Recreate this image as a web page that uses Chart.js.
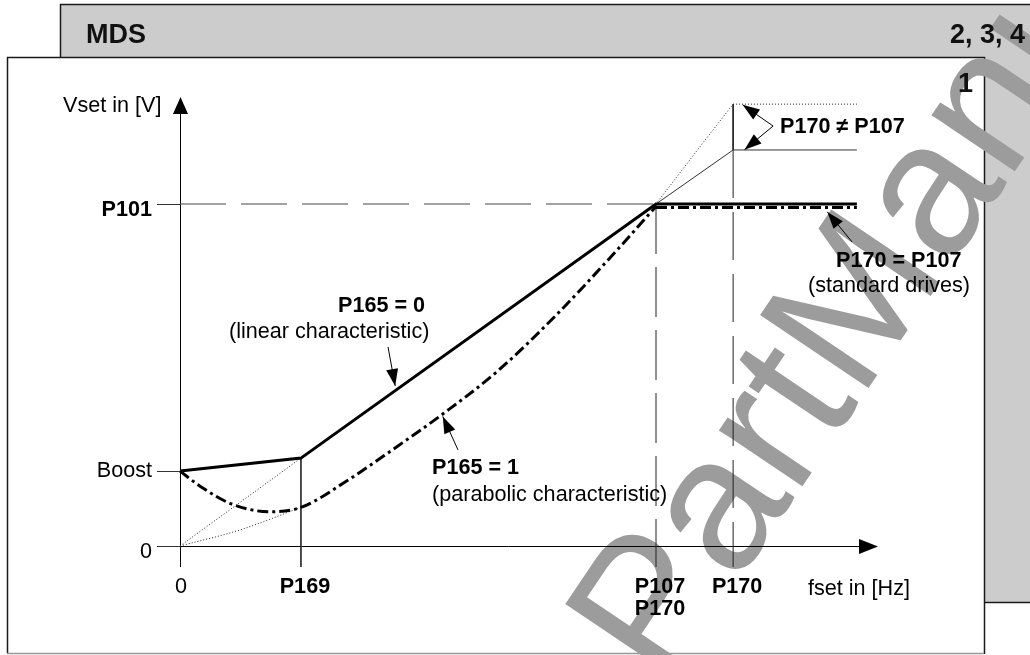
<!DOCTYPE html>
<html><head><meta charset="utf-8">
<script src="https://cdn.jsdelivr.net/npm/chart.js@4.4.0/dist/chart.umd.min.js"></script>
<style>html,body{margin:0;padding:0;background:#fff;}canvas{display:block;}</style>
</head><body>
<canvas id="c" width="1030" height="655"></canvas>
<script>
// ---------- data (f in Hz-like units, V in % of P101) ----------
const xTickValues = [0, 12.7, 50, 58.1];
const xTickLabels = [['0'], ['P169'], ['P107', 'P170'], ['P170']];
const yTickValues = [0, 21.9, 100];
const yTickLabels = ['0', 'Boost', 'P101'];

const fLinear = [0, 12.7, 50, 71.1];
const vLinear = [21.9, 25.7, 100, 100];

const fParabolic = [0, 2.1, 5.4, 9.45, 12.7, 17.5, 22.4, 27.7, 33.3, 39.4, 45.9, 50];
const vParabolic = [21.9, 17.5, 12.3, 10.0, 11.3, 19.0, 28.3, 38.8, 51.0, 67.2, 86.5, 99.3];
const fParabolicFlat = [50, 71.1];
const vParabolicFlat = [99.0, 99.0];

const fLinearNoBoost = [0, 12.7];
const vLinearNoBoost = [0, 25.7];
const fParabolicNoBoost = [0, 6.3, 12.7];
const vParabolicNoBoost = [0, 4.7, 11.3];

const fAboveSquare = [50, 54.6, 58.1, 71.1];
const vAboveSquare = [100, 116.7, 129.2, 129.2];
const fAboveLinear = [50, 58.1, 71.1];
const vAboveLinear = [100, 115.8, 115.8];

const fAxisMin = -2.42, fAxisMax = 73.32;
const vAxisMin = -6.14, vAxisMax = 131.29;

// ---------- helpers ----------
const pts = (fs, vs) => fs.map((f, i) => ({ x: f, y: vs[i] }));
const ds = (data, style) => Object.assign({
  data, showLine: true, pointRadius: 0, borderColor: '#000', borderWidth: 1,
  fill: false, tension: 0, borderCapStyle: 'butt', borderJoinStyle: 'miter'
}, style);
const DOT = [1, 2];
const DASHDOT = [11, 4, 3, 4];

const datasets = [
  ds(pts(fLinear, vLinear), { borderWidth: 3 }),
  ds(pts(fParabolic, vParabolic), { borderWidth: 3, borderDash: DASHDOT, cubicInterpolationMode: 'monotone' }),
  ds(pts(fParabolicFlat, vParabolicFlat), { borderWidth: 3, borderDash: DASHDOT }),
  ds(pts(fLinearNoBoost, vLinearNoBoost), { borderDash: DOT, borderColor: '#222' }),
  ds(pts(fParabolicNoBoost, vParabolicNoBoost), { borderDash: DOT, borderColor: '#222', cubicInterpolationMode: 'monotone' }),
  ds(pts(fAboveSquare, vAboveSquare), { borderDash: DOT, borderColor: '#222' }),
  ds(pts(fAboveLinear, vAboveLinear), { borderColor: '#333' }),
  // reference lines derived from the tick values
  ds(pts([0, xTickValues[2]], [yTickValues[2], yTickValues[2]]), { borderColor: '#444', borderDash: [46, 15] }),
  ds(pts([xTickValues[1], xTickValues[1]], [vLinear[1], vAxisMin]), { borderColor: '#333' }),
  ds(pts([xTickValues[2], xTickValues[2]], [yTickValues[2], vAxisMin]), { borderColor: '#222', borderDash: [50, 13] }),
  ds(pts([xTickValues[3], xTickValues[3]], [vAboveSquare[2], vAboveLinear[1]]), { borderColor: '#222' }),
  ds(pts([xTickValues[3], xTickValues[3]], [vAboveLinear[1], vAxisMin]), { borderColor: '#222', borderDash: [48, 14] })
];

const FONT = '"Liberation Sans", Arial, Helvetica, sans-serif';

function arrowHead(ctx, x1, y1, x2, y2, len, hw) {
  const a = Math.atan2(y2 - y1, x2 - x1);
  ctx.beginPath();
  ctx.moveTo(x2, y2);
  ctx.lineTo(x2 - len * Math.cos(a) + hw * Math.sin(a), y2 - len * Math.sin(a) - hw * Math.cos(a));
  ctx.lineTo(x2 - len * Math.cos(a) - hw * Math.sin(a), y2 - len * Math.sin(a) + hw * Math.cos(a));
  ctx.closePath();
  ctx.fill();
}

const framePlugin = {
  id: 'frame',
  beforeDraw(chart) {
    const ctx = chart.ctx;
    ctx.save();
    ctx.fillStyle = '#fff';
    ctx.fillRect(0, 0, 1030, 655);
    // grey header panel
    ctx.fillStyle = '#cccccc';
    ctx.fillRect(60, 4, 1000, 598);
    ctx.strokeStyle = '#1a1a1a';
    ctx.lineWidth = 1.5;
    ctx.strokeRect(60.5, 4.5, 1000, 598);
    // white panel
    ctx.fillStyle = '#fff';
    ctx.fillRect(7, 57, 978, 597);
    ctx.beginPath();
    ctx.moveTo(7.5, 653.5); ctx.lineTo(7.5, 57.5); ctx.lineTo(984.5, 57.5); ctx.lineTo(984.5, 654);
    ctx.stroke();
    ctx.strokeStyle = '#999';
    ctx.beginPath(); ctx.moveTo(7, 653.5); ctx.lineTo(984, 653.5); ctx.stroke();
    // watermark
    ctx.save();
    ctx.translate(665, 690);
    ctx.rotate(-56 * Math.PI / 180);
    ctx.font = '190px ' + FONT;
    ctx.fillStyle = '#9c9c9c';
    ctx.textBaseline = 'alphabetic';
    ctx.fillText('PartManual', 0, 0);
    ctx.restore();
    // header texts
    ctx.fillStyle = '#111';
    ctx.font = 'bold 27px ' + FONT;
    ctx.textAlign = 'left';
    ctx.fillText('MDS', 86, 43);
    ctx.fillText('2, 3, 4', 950, 43);
    ctx.fillText('1', 958, 92);
    ctx.restore();
  },
  beforeDatasetsDraw(chart) {
    const ctx = chart.ctx, X = v => chart.scales.x.getPixelForValue(v), Y = v => chart.scales.y.getPixelForValue(v);
    ctx.save();
    ctx.strokeStyle = '#000';
    ctx.fillStyle = '#000';
    ctx.lineWidth = 1;
    const x0 = Math.round(X(0)) + 0.5, y0 = Math.round(Y(0)) + 0.5;
    // x axis
    const xTip = X(fAxisMax);
    ctx.beginPath(); ctx.moveTo(X(fAxisMin), y0); ctx.lineTo(xTip - 18, y0); ctx.stroke();
    arrowHead(ctx, X(fAxisMin), y0, xTip, y0, 19, 7.5);
    // y axis
    const yTip = Y(vAxisMax);
    ctx.beginPath(); ctx.moveTo(x0, Y(vAxisMin)); ctx.lineTo(x0, yTip + 16); ctx.stroke();
    arrowHead(ctx, x0, Y(vAxisMin), x0, yTip, 17, 7.5);
    // y ticks
    ctx.strokeStyle = '#333';
    yTickValues.forEach(v => {
      const y = Math.round(Y(v)) + 0.5;
      ctx.beginPath(); ctx.moveTo(X(fAxisMin), y); ctx.lineTo(x0, y); ctx.stroke();
    });
    ctx.restore();
  },
  afterDatasetsDraw(chart) {
    const ctx = chart.ctx, X = v => chart.scales.x.getPixelForValue(v), Y = v => chart.scales.y.getPixelForValue(v);
    ctx.save();
    ctx.fillStyle = '#000';
    ctx.textBaseline = 'alphabetic';
    // y tick labels
    const yOff = [12, 6, 12];
    yTickLabels.forEach((t, i) => {
      ctx.font = (t.startsWith('P') ? 'bold ' : '') + '21.6px ' + FONT;
      ctx.textAlign = 'right';
      ctx.fillText(t, 152, Y(yTickValues[i]) + yOff[i]);
    });
    // x tick labels
    xTickLabels.forEach((lines, i) => {
      const bold = lines[0].startsWith('P');
      ctx.font = (bold ? 'bold ' : '') + '21.6px ' + FONT;
      ctx.textAlign = 'center';
      lines.forEach((t, j) => ctx.fillText(t, X(xTickValues[i]) + (bold ? 4 : 1), 593 + j * 22));
    });
    // axis titles
    ctx.font = '21.6px ' + FONT;
    ctx.textAlign = 'left';
    ctx.fillText('Vset in [V]', 63, 112);
    ctx.fillText('fset in [Hz]', 808, 595);
    // annotation texts
    ctx.font = 'bold 21.6px ' + FONT;
    ctx.fillText('P165 = 0', 338, 312);
    ctx.fillText('P165 = 1', 432, 474);
    ctx.fillText('P170 \u2260 P107', 780, 133);
    ctx.fillText('P170 = P107', 836, 267);
    ctx.font = '21.6px ' + FONT;
    ctx.fillText('(linear characteristic)', 229, 338);
    ctx.fillText('(parabolic characteristic)', 432, 501);
    ctx.fillText('(standard drives)', 808, 292);
    // annotation arrows (data coordinates)
    const arrows = [
      { from: [21.85, 58.2], to: [22.6, 46.8] },
      { from: [29.2, 28.1], to: [27.6, 37.9] },
      { from: [62.3, 122.8], to: [59.1, 129.0] },
      { from: [62.3, 122.8], to: [59.3, 115.9] },
      { from: [70.6, 88.9], to: [68.0, 97.7] }
    ];
    ctx.strokeStyle = '#000';
    ctx.lineWidth = 1;
    arrows.forEach(a => {
      const x1 = X(a.from[0]), y1 = Y(a.from[1]), x2 = X(a.to[0]), y2 = Y(a.to[1]);
      ctx.beginPath(); ctx.moveTo(x1, y1); ctx.lineTo(x2, y2); ctx.stroke();
      arrowHead(ctx, x1, y1, x2, y2, 17, 6);
    });
    ctx.restore();
  }
};

new Chart(document.getElementById('c'), {
  type: 'scatter',
  data: { datasets },
  options: {
    responsive: false,
    animation: false,
    devicePixelRatio: 1,
    events: [],
    layout: { padding: { left: 157, right: 152, top: 97, bottom: 88 } },
    plugins: { legend: { display: false }, tooltip: { enabled: false } },
    scales: {
      x: { type: 'linear', min: fAxisMin, max: fAxisMax, display: false },
      y: { type: 'linear', min: vAxisMin, max: vAxisMax, display: false }
    }
  },
  plugins: [framePlugin]
});
</script>
</body></html>
